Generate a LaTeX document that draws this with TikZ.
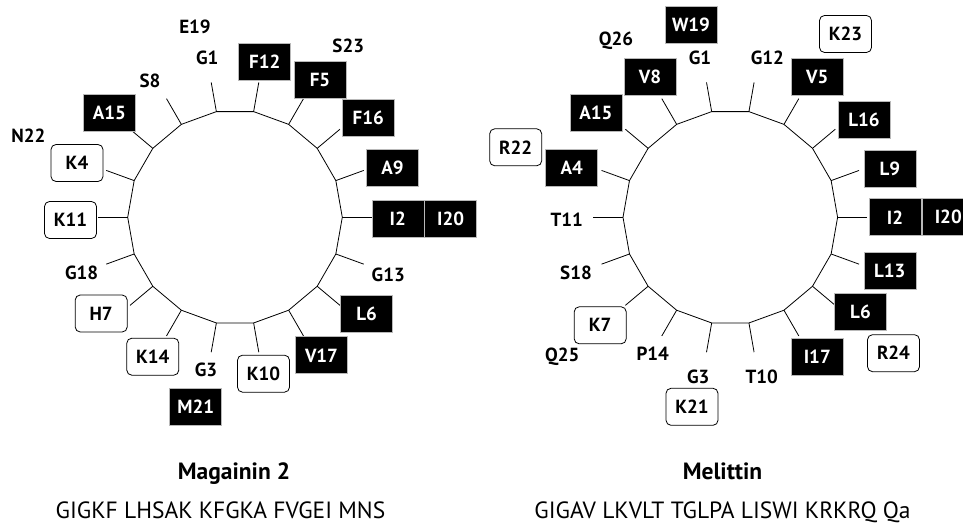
\documentclass[tikz,border=0pt]{standalone}
\usepackage{fontspec}
\setmainfont{PT Sans}
\usetikzlibrary{calc}
\tikzset{
  lab/.style={font=\fontsize{19}{21}\selectfont\bfseries, inner sep=0pt},
  hyd/.style={lab, fill=black, draw=gray!55, line width=0.6pt, text=white, minimum width=52pt, minimum height=37pt},
  pol/.style={lab, fill=white, draw=black, line width=0.8pt, rounded corners=5pt, minimum width=52pt, minimum height=37pt},
  wheel/.style={line width=0.8pt},
  ttl/.style={font=\fontsize{23.5}{26}\selectfont\bfseries, anchor=base, inner sep=0pt},
  seq/.style={font=\fontsize{23.5}{26}\selectfont, anchor=base, inner sep=0pt},
}
\begin{document}
\begin{tikzpicture}[x=1pt,y=1pt]
\useasboundingbox (0,0) rectangle (963,524);
% ---------- Left wheel : Magainin 2 ----------
\begin{scope}[shift={(235,306.7)}]
  \foreach \a in {0,20,...,340} {
    \coordinate (Lv\a) at (\a:107.3);
    \coordinate (Ls\a) at (\a:137);
  }
  \draw[wheel] (Lv0) \foreach \a in {20,40,...,340} { -- (Lv\a) } -- cycle;
  \foreach \a in {0,20,...,340} { \draw[wheel] (Lv\a) -- (Ls\a); }
\end{scope}
\node[lab] (mG1) at (207.3,465.7) {G1};
\node[hyd] (mI2) at (397.8,305.5) {I2};
\node[lab] (mG3) at (206,154) {G3};
\node[pol] (mK4) at (77,361) {K4};
\node[hyd] (mF5) at (320,443.7) {F5};
\node[hyd] (mL6) at (366.7,210.3) {L6};
\node[pol] (mH7) at (101.2,210.5) {H7};
\node[lab] (mS8) at (150,443) {S8};
\node[hyd] (mA9) at (392.5,355.8) {A9};
\node[pol] (mK10) at (263.5,150.3) {K10};
\node[pol] (mK11) at (70.5,304) {K11};
\node[hyd] (mF12) at (264.7,462.3) {F12};
\node[lab] (mG13) at (388.3,248.7) {G13};
\node[pol] (mK14) at (152.8,167.3) {K14};
\node[hyd] (mA15) at (109.5,411) {A15};
\node[hyd] (mF16) at (368.3,405.7) {F16};
\node[hyd] (mV17) at (321.5,168.7) {V17};
\node[lab] (mG18) at (81.7,251.3) {G18};
\node[lab] (mE19) at (195,497.3) {E19};
\node[hyd] (mI20) at (450.6,305.5) {I20};
\node[hyd] (mM21) at (195.7,117) {M21};
\node[lab] (mN22) at (28.3,388) {N22};
\node[lab] (mS23) at (348.3,478.3) {S23};
\node[ttl] (mtitle) at (234,44.7) {Magainin 2};
\node[seq] (mseq) at (220.5,5.7) {GIGKF LHSAK KFGKA FVGEI MNS};
% ---------- Right wheel : Melittin ----------
\begin{scope}[shift={(730.3,306.7)}]
  \foreach \a in {0,20,...,340} {
    \coordinate (Rv\a) at (\a:107.3);
    \coordinate (Rs\a) at (\a:137);
  }
  \draw[wheel] (Rv0) \foreach \a in {20,40,...,340} { -- (Rv\a) } -- cycle;
  \foreach \a in {0,20,...,340} { \draw[wheel] (Rv\a) -- (Rs\a); }
\end{scope}
\node[lab] (eG1) at (700,465.7) {G1};
\node[hyd] (eI2) at (895,306.7) {I2};
\node[lab] (eG3) at (698.3,147.3) {G3};
\node[hyd] (eA4) at (571.7,356) {A4};
\node[hyd] (eV5) at (817.3,446.7) {V5};
\node[hyd] (eL6) at (860.5,212.2) {L6};
\node[pol] (eK7) at (600.2,198.7) {K7};
\node[hyd] (eV8) at (650,446.7) {V8};
\node[hyd] (eL9) at (889.8,355.3) {L9};
\node[lab] (eT10) at (761.7,147.3) {T10};
\node[lab] (eT11) at (566.7,304) {T11};
\node[lab] (eG12) at (767.3,465.7) {G12};
\node[hyd] (eL13) at (889.8,253.5) {L13};
\node[lab] (eP14) at (652.7,170.7) {P14};
\node[hyd] (eA15) at (595.8,411) {A15};
\node[hyd] (eL16) at (864,403.8) {L16};
\node[hyd] (eI17) at (817.3,166.8) {I17};
\node[lab] (eS18) at (576,250.7) {S18};
\node[hyd] (eW19) at (691,499) {W19};
\node[hyd] (eI20) at (948.3,306.7) {I20};
\node[pol] (eK21) at (692,117.2) {K21};
\node[pol] (eR22) at (515.7,376.7) {R22};
\node[pol] (eK23) at (845.5,490) {K23};
\node[pol] (eR24) at (893.5,170.8) {R24};
\node[lab] (eQ25) at (562.3,167.3) {Q25};
\node[lab] (eQ26) at (616,483) {Q26};
\node[ttl] (etitle) at (722.5,44.7) {Melittin};
\node[seq] (eseq) at (722.5,5.7) {GIGAV LKVLT TGLPA LISWI KRKRQ Qa};
\end{tikzpicture}
\end{document}
